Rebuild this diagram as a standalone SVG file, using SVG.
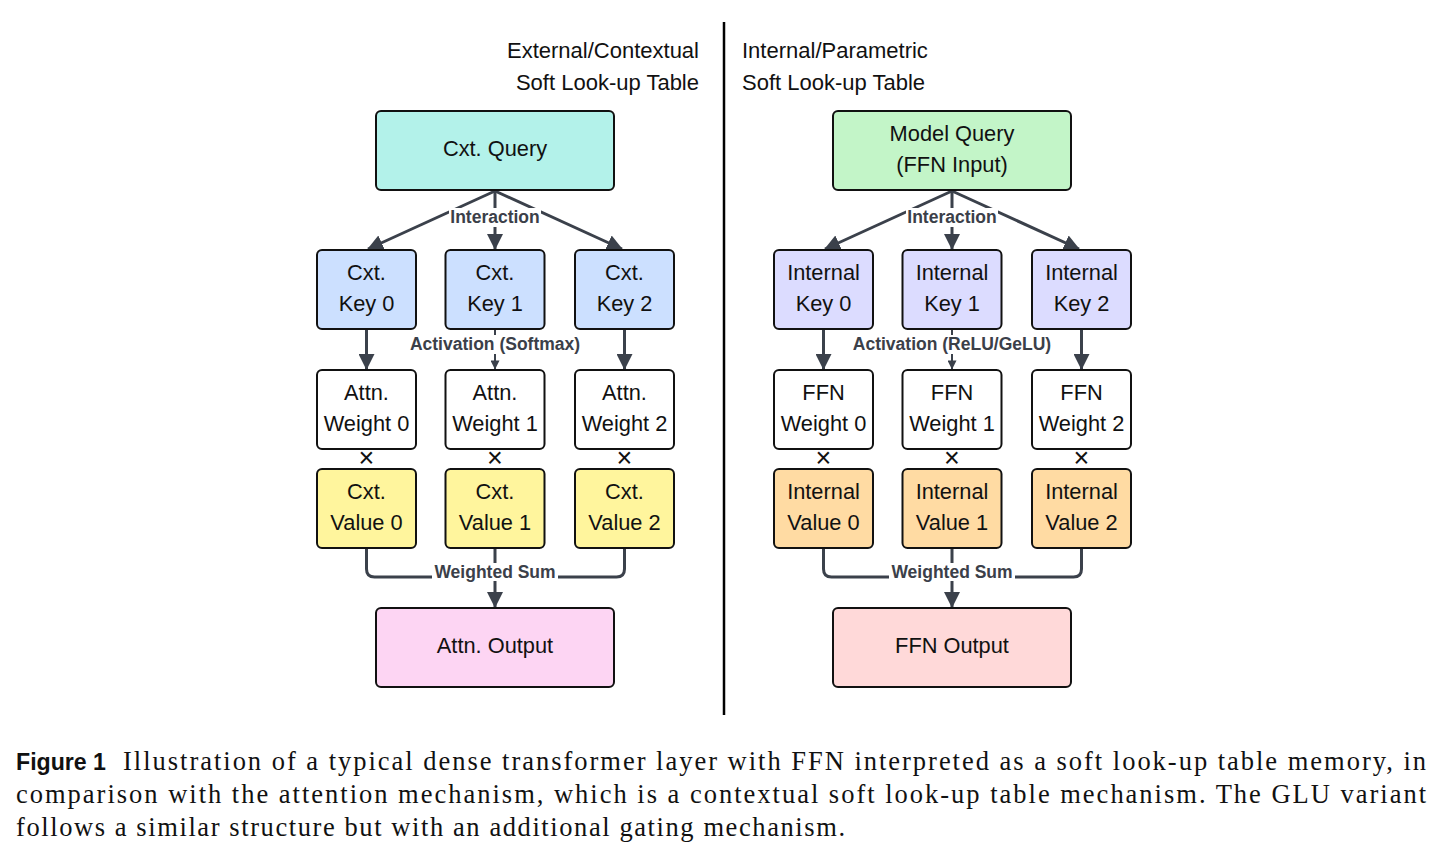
<svg xmlns="http://www.w3.org/2000/svg" width="1443" height="856" viewBox="0 0 1443 856">
<style>
.box{stroke:#111;stroke-width:2;}
.t{font-family:"Liberation Sans",Arial,sans-serif;font-size:21.8px;fill:#111;text-anchor:middle;}
.h{font-family:"Liberation Sans",Arial,sans-serif;font-size:22px;fill:#111;}
.lbl{font-family:"Liberation Sans",Arial,sans-serif;font-size:17.5px;font-weight:bold;fill:#3b4049;text-anchor:middle;}
.x{font-family:"Liberation Sans",Arial,sans-serif;font-size:27px;fill:#111;text-anchor:middle;}
.ln{fill:none;stroke:#3b414b;stroke-width:3;}
.thin{fill:none;stroke:#3b414b;stroke-width:2;}
.cap{font-family:"Liberation Serif","Times New Roman",serif;font-size:26.5px;fill:#111;}
.capb{font-family:"Liberation Sans",Arial,sans-serif;font-size:23.5px;font-weight:bold;fill:#111;}
.q{fill:#b3f2ea}.ck{fill:#cce0ff}.w{fill:#fff}.cv{fill:#fff59d}.ao{fill:#fdd5f3}
.mq{fill:#c3f5c8}.ik{fill:#dcdcff}.iv{fill:#ffdba3}.fo{fill:#ffd9d9}
</style>
<defs>
<marker id="ah" markerUnits="userSpaceOnUse" markerWidth="16" markerHeight="16" viewBox="0 0 16 16" refX="15" refY="8" orient="auto">
<path d="M0,0 L16,8 L0,16 Z" fill="#3b414b"/>
</marker>
<marker id="ahs" markerUnits="userSpaceOnUse" markerWidth="9" markerHeight="9" viewBox="0 0 10 10" refX="9.5" refY="5" orient="auto">
<path d="M0,0 L10,5 L0,10 Z" fill="#3b414b"/>
</marker>
</defs>
<rect width="1443" height="856" fill="#fff"/>

<!-- headers and divider -->
<line x1="724" y1="22" x2="724" y2="715" stroke="#000" stroke-width="2.5"/>
<text class="h" x="699" y="58" text-anchor="end">External/Contextual</text>
<text class="h" x="699" y="90" text-anchor="end">Soft Look-up Table</text>
<text class="h" x="742" y="58">Internal/Parametric</text>
<text class="h" x="742" y="90">Soft Look-up Table</text>

<!-- connectors -->
<g id="connectors">
<line class="ln" x1="495" y1="191" x2="368" y2="249" marker-end="url(#ah)"/>
<line class="ln" x1="495" y1="191" x2="495" y2="249" marker-end="url(#ah)"/>
<line class="ln" x1="495" y1="191" x2="622" y2="249" marker-end="url(#ah)"/>
<line class="ln" x1="366.5" y1="330" x2="366.5" y2="369" marker-end="url(#ah)"/>
<line class="thin" x1="495" y1="330" x2="495" y2="369" marker-end="url(#ahs)"/>
<line class="ln" x1="624.5" y1="330" x2="624.5" y2="369" marker-end="url(#ah)"/>
<path class="ln" d="M366.5,549 V569 Q366.5,577 374.5,577 H616.5 Q624.5,577 624.5,569 V549"/>
<line class="ln" x1="495" y1="549" x2="495" y2="607" marker-end="url(#ah)"/>

<line class="ln" x1="952" y1="191" x2="825" y2="249" marker-end="url(#ah)"/>
<line class="ln" x1="952" y1="191" x2="952" y2="249" marker-end="url(#ah)"/>
<line class="ln" x1="952" y1="191" x2="1079" y2="249" marker-end="url(#ah)"/>
<line class="ln" x1="823.5" y1="330" x2="823.5" y2="369" marker-end="url(#ah)"/>
<line class="thin" x1="952" y1="330" x2="952" y2="369" marker-end="url(#ahs)"/>
<line class="ln" x1="1081.5" y1="330" x2="1081.5" y2="369" marker-end="url(#ah)"/>
<path class="ln" d="M823.5,549 V569 Q823.5,577 831.5,577 H1073.5 Q1081.5,577 1081.5,569 V549"/>
<line class="ln" x1="952" y1="549" x2="952" y2="607" marker-end="url(#ah)"/>

<rect x="449" y="208" width="92" height="19" fill="#fff"/>
<text class="lbl" x="495" y="223">Interaction</text>
<rect x="408" y="335" width="175" height="19" fill="#fff"/>
<text class="lbl" x="495" y="350">Activation (Softmax)</text>
<rect x="432" y="563" width="126" height="18" fill="#fff"/>
<text class="lbl" x="495" y="578">Weighted Sum</text>

<rect x="906" y="208" width="92" height="19" fill="#fff"/>
<text class="lbl" x="952" y="223">Interaction</text>
<rect x="850" y="335" width="204" height="19" fill="#fff"/>
<text class="lbl" x="952" y="350">Activation (ReLU/GeLU)</text>
<rect x="889" y="563" width="126" height="18" fill="#fff"/>
<text class="lbl" x="952" y="578">Weighted Sum</text>

<text class="x" x="366.5" y="467">×</text>
<text class="x" x="495" y="467">×</text>
<text class="x" x="624.5" y="467">×</text>
<text class="x" x="823.5" y="467">×</text>
<text class="x" x="952" y="467">×</text>
<text class="x" x="1081.5" y="467">×</text>
</g>

<!-- LEFT nodes -->
<g id="cxt-query"><rect class="box q" x="376" y="111" width="238" height="79" rx="5"/><text class="t" x="495" y="155.5">Cxt. Query</text></g>
<g id="cxt-key0"><rect class="box ck" x="317" y="250" width="99" height="79" rx="5"/><text class="t" x="366.5" y="280">Cxt.</text><text class="t" x="366.5" y="311">Key 0</text></g>
<g id="cxt-key1"><rect class="box ck" x="445.5" y="250" width="99" height="79" rx="5"/><text class="t" x="495" y="280">Cxt.</text><text class="t" x="495" y="311">Key 1</text></g>
<g id="cxt-key2"><rect class="box ck" x="575" y="250" width="99" height="79" rx="5"/><text class="t" x="624.5" y="280">Cxt.</text><text class="t" x="624.5" y="311">Key 2</text></g>
<g id="attn-w0"><rect class="box w" x="317" y="370" width="99" height="79" rx="5"/><text class="t" x="366.5" y="399.5">Attn.</text><text class="t" x="366.5" y="430.5">Weight 0</text></g>
<g id="attn-w1"><rect class="box w" x="445.5" y="370" width="99" height="79" rx="5"/><text class="t" x="495" y="399.5">Attn.</text><text class="t" x="495" y="430.5">Weight 1</text></g>
<g id="attn-w2"><rect class="box w" x="575" y="370" width="99" height="79" rx="5"/><text class="t" x="624.5" y="399.5">Attn.</text><text class="t" x="624.5" y="430.5">Weight 2</text></g>
<g id="cxt-v0"><rect class="box cv" x="317" y="469" width="99" height="79" rx="5"/><text class="t" x="366.5" y="498.5">Cxt.</text><text class="t" x="366.5" y="529.5">Value 0</text></g>
<g id="cxt-v1"><rect class="box cv" x="445.5" y="469" width="99" height="79" rx="5"/><text class="t" x="495" y="498.5">Cxt.</text><text class="t" x="495" y="529.5">Value 1</text></g>
<g id="cxt-v2"><rect class="box cv" x="575" y="469" width="99" height="79" rx="5"/><text class="t" x="624.5" y="498.5">Cxt.</text><text class="t" x="624.5" y="529.5">Value 2</text></g>
<g id="attn-out"><rect class="box ao" x="376" y="608" width="238" height="79" rx="5"/><text class="t" x="495" y="652.5">Attn. Output</text></g>

<!-- RIGHT nodes -->
<g id="model-query"><rect class="box mq" x="833" y="111" width="238" height="79" rx="5"/><text class="t" x="952" y="141">Model Query</text><text class="t" x="952" y="172">(FFN Input)</text></g>
<g id="int-key0"><rect class="box ik" x="774" y="250" width="99" height="79" rx="5"/><text class="t" x="823.5" y="280">Internal</text><text class="t" x="823.5" y="311">Key 0</text></g>
<g id="int-key1"><rect class="box ik" x="902.5" y="250" width="99" height="79" rx="5"/><text class="t" x="952" y="280">Internal</text><text class="t" x="952" y="311">Key 1</text></g>
<g id="int-key2"><rect class="box ik" x="1032" y="250" width="99" height="79" rx="5"/><text class="t" x="1081.5" y="280">Internal</text><text class="t" x="1081.5" y="311">Key 2</text></g>
<g id="ffn-w0"><rect class="box w" x="774" y="370" width="99" height="79" rx="5"/><text class="t" x="823.5" y="399.5">FFN</text><text class="t" x="823.5" y="430.5">Weight 0</text></g>
<g id="ffn-w1"><rect class="box w" x="902.5" y="370" width="99" height="79" rx="5"/><text class="t" x="952" y="399.5">FFN</text><text class="t" x="952" y="430.5">Weight 1</text></g>
<g id="ffn-w2"><rect class="box w" x="1032" y="370" width="99" height="79" rx="5"/><text class="t" x="1081.5" y="399.5">FFN</text><text class="t" x="1081.5" y="430.5">Weight 2</text></g>
<g id="int-v0"><rect class="box iv" x="774" y="469" width="99" height="79" rx="5"/><text class="t" x="823.5" y="498.5">Internal</text><text class="t" x="823.5" y="529.5">Value 0</text></g>
<g id="int-v1"><rect class="box iv" x="902.5" y="469" width="99" height="79" rx="5"/><text class="t" x="952" y="498.5">Internal</text><text class="t" x="952" y="529.5">Value 1</text></g>
<g id="int-v2"><rect class="box iv" x="1032" y="469" width="99" height="79" rx="5"/><text class="t" x="1081.5" y="498.5">Internal</text><text class="t" x="1081.5" y="529.5">Value 2</text></g>
<g id="ffn-out"><rect class="box fo" x="833" y="608" width="238" height="79" rx="5"/><text class="t" x="952" y="652.5">FFN Output</text></g>

<!-- caption -->
<g id="caption">
<text class="capb" x="16" y="770" textLength="90" lengthAdjust="spacingAndGlyphs">Figure 1</text>
<text class="cap" x="123" y="770" textLength="1303" lengthAdjust="spacing">Illustration of a typical dense transformer layer with FFN interpreted as a soft look-up table memory, in</text>
<text class="cap" x="16" y="803" textLength="1410" lengthAdjust="spacing">comparison with the attention mechanism, which is a contextual soft look-up table mechanism. The GLU variant</text>
<text class="cap" x="16" y="836" textLength="829" lengthAdjust="spacing">follows a similar structure but with an additional gating mechanism.</text>
</g>
</svg>
